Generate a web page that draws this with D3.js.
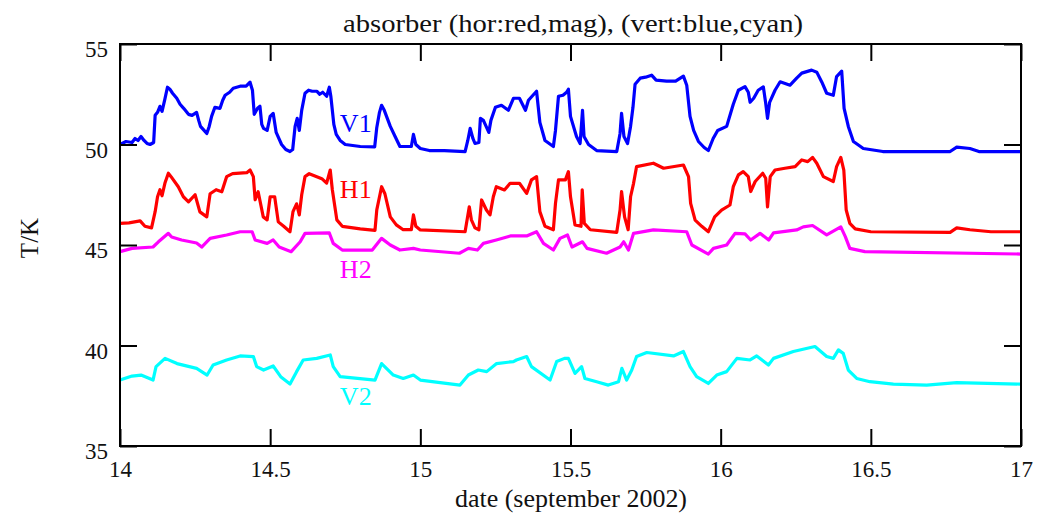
<!DOCTYPE html>
<html>
<head>
<meta charset="utf-8">
<script src="https://cdn.jsdelivr.net/npm/d3@7"></script>
<style>
  html, body { margin: 0; padding: 0; background: #fff; }
  svg { display: block; }
  text { font-family: "Liberation Serif", "Times New Roman", "DejaVu Serif", serif; fill: #111; }
</style>
</head>
<body>
<svg id="chart" width="1062" height="524"></svg>
<script>
// Absorber temperatures, September 2002 (day of month, kelvin)
const v1Days = [14.000,14.02,14.04,14.05,14.06,14.07,14.08,14.09,14.10,14.112,14.117,14.125,14.133,14.14,14.15,14.158,14.166,14.175,14.189,14.20,14.212,14.228,14.24,14.255,14.262,14.268,14.28,14.289,14.297,14.305,14.316,14.333,14.342,14.35,14.365,14.377,14.40,14.42,14.433,14.441,14.447,14.458,14.466,14.472,14.478,14.49,14.5,14.51,14.52,14.538,14.552,14.566,14.575,14.583,14.59,14.597,14.605,14.616,14.628,14.64,14.655,14.665,14.675,14.688,14.697,14.702,14.712,14.72,14.733,14.75,14.8,14.848,14.855,14.864,14.871,14.88,14.9,14.916,14.932,14.97,14.977,14.985,15.0,15.03,15.08,15.149,15.158,15.166,15.175,15.182,15.195,15.2,15.21,15.228,15.235,15.25,15.27,15.293,15.31,15.33,15.35,15.36,15.387,15.398,15.415,15.443,15.45,15.46,15.475,15.487,15.493,15.5,15.52,15.532,15.54,15.545,15.56,15.587,15.654,15.665,15.67,15.678,15.69,15.70,15.708,15.715,15.732,15.75,15.77,15.785,15.82,15.85,15.876,15.887,15.898,15.91,15.926,15.945,15.959,15.975,15.99,16.02,16.042,16.059,16.081,16.092,16.098,16.11,16.125,16.142,16.15,16.156,16.163,16.181,16.198,16.231,16.253,16.27,16.303,16.32,16.337,16.353,16.375,16.386,16.403,16.411,16.425,16.442,16.475,16.54,16.65,16.764,16.786,16.83,16.86,17.0];
const v1Temps = [50.0,50.15,50.1,50.3,50.2,50.4,50.2,50.05,50.0,50.1,51.45,51.6,51.9,51.65,52.3,52.85,52.75,52.55,52.3,52.0,51.8,51.5,51.45,51.6,51.2,50.9,50.7,50.55,50.9,51.4,51.85,51.8,52.2,52.45,52.6,52.8,52.9,52.9,53.1,52.7,51.5,51.8,51.9,51.0,50.8,50.7,51.4,51.55,50.6,50.0,49.75,49.65,49.75,50.9,51.3,50.7,51.7,52.55,52.7,52.65,52.65,52.5,52.6,52.4,52.85,52.4,51.0,50.5,50.2,50.0,49.9,49.88,50.85,51.6,51.95,51.7,50.9,50.4,49.9,49.9,50.5,50.0,49.8,49.7,49.7,49.65,50.2,50.8,50.3,50.05,50.1,51.3,51.2,50.6,51.2,51.85,51.95,51.7,52.3,52.3,51.7,52.2,52.65,51.1,50.2,49.9,50.7,52.4,52.45,52.6,52.75,51.4,50.4,50.05,51.7,50.4,50.0,49.7,49.65,50.55,51.55,50.4,50.05,50.9,51.85,53.0,53.3,53.35,53.45,53.2,53.15,53.15,53.4,52.95,51.4,50.7,50.15,49.85,49.7,50.3,50.7,50.9,52.0,52.7,52.88,52.6,52.1,52.3,52.7,52.87,52.05,51.3,52.1,52.7,53.12,52.95,53.3,53.55,53.7,53.6,53.1,52.55,52.45,53.38,53.65,51.8,50.9,50.15,49.8,49.65,49.65,49.65,49.87,49.8,49.65,49.65];

const h1Days = [14.0,14.03,14.067,14.083,14.105,14.117,14.125,14.133,14.14,14.15,14.161,14.17,14.194,14.211,14.228,14.25,14.266,14.289,14.30,14.32,14.339,14.355,14.375,14.422,14.433,14.444,14.45,14.46,14.477,14.49,14.5,14.515,14.527,14.545,14.566,14.576,14.588,14.597,14.605,14.616,14.63,14.672,14.688,14.70,14.707,14.722,14.74,14.8,14.849,14.855,14.871,14.882,14.9,14.92,14.943,14.97,14.977,14.985,15.0,15.149,15.163,15.17,15.182,15.195,15.204,15.22,15.232,15.243,15.253,15.28,15.299,15.33,15.354,15.37,15.387,15.398,15.415,15.443,15.45,15.46,15.483,15.493,15.5,15.515,15.535,15.539,15.546,15.566,15.654,15.665,15.67,15.68,15.692,15.70,15.71,15.72,15.776,15.81,15.876,15.893,15.9,15.915,15.937,15.959,15.98,16.003,16.031,16.042,16.059,16.075,16.092,16.1,16.115,16.14,16.15,16.156,16.165,16.181,16.214,16.248,16.27,16.29,16.306,16.32,16.342,16.375,16.386,16.4,16.41,16.418,16.43,16.448,16.5,16.764,16.786,16.83,16.9,17.0];
const h1Temps = [46.08,46.1,46.2,45.93,45.85,46.66,47.4,47.75,47.45,48.1,48.57,48.4,47.9,47.4,47.15,47.5,46.65,46.4,47.55,47.75,47.65,48.4,48.55,48.6,48.73,48.4,47.25,47.65,46.4,46.25,47.4,47.4,46.15,45.93,45.66,46.66,47.05,46.5,47.5,48.4,48.55,48.3,48.08,48.73,47.75,46.25,45.93,45.8,45.73,46.75,47.9,47.55,46.4,46.0,45.76,45.76,46.5,45.93,45.75,45.66,46.9,46.25,45.85,45.76,47.24,46.74,46.5,47.4,47.9,47.74,48.07,48.07,47.57,48.24,48.4,46.66,45.93,45.76,47.07,48.24,48.24,48.65,47.4,46.0,45.93,47.74,46.08,45.76,45.63,46.74,47.66,46.4,45.76,47.4,48.07,48.9,49.07,48.82,48.98,48.4,47.07,46.24,45.93,45.66,46.4,46.74,46.99,47.9,48.49,48.65,48.4,47.66,48.16,48.57,48.32,46.9,48.4,48.73,48.82,48.9,49.23,49.15,49.36,49.07,48.4,48.16,48.9,49.36,48.73,46.74,46.08,45.8,45.66,45.63,45.85,45.76,45.66,45.66];

const h2Days = [14.0,14.04,14.11,14.128,14.161,14.172,14.205,14.255,14.272,14.30,14.355,14.40,14.44,14.45,14.49,14.51,14.53,14.57,14.6,14.616,14.697,14.71,14.74,14.84,14.871,14.9,14.932,14.977,15.0,15.13,15.16,15.19,15.21,15.253,15.30,15.354,15.387,15.41,15.443,15.465,15.49,15.505,15.54,15.555,15.62,15.665,15.677,15.693,15.71,15.776,15.887,15.904,15.959,15.976,16.02,16.048,16.081,16.1,16.131,16.16,16.176,16.253,16.275,16.306,16.353,16.4,16.415,16.43,16.48,17.0];
const h2Temps = [44.67,44.83,44.9,45.16,45.58,45.4,45.25,45.1,44.9,45.33,45.5,45.66,45.66,45.25,45.08,45.25,44.9,44.67,45.16,45.58,45.6,45.08,44.75,44.75,45.33,45.0,44.75,44.83,44.75,44.59,44.83,44.75,45.08,45.25,45.45,45.45,45.66,45.08,44.75,45.33,45.5,44.9,45.16,44.83,44.59,44.9,45.16,44.75,45.58,45.75,45.66,45.0,44.55,44.83,45.0,45.58,45.55,45.25,45.58,45.25,45.6,45.75,45.9,45.97,45.5,45.9,45.42,44.83,44.67,44.55];

const v2Days = [14.0,14.04,14.07,14.11,14.12,14.15,14.19,14.255,14.29,14.31,14.355,14.4,14.444,14.455,14.478,14.51,14.535,14.566,14.588,14.61,14.655,14.70,14.71,14.733,14.849,14.871,14.91,14.943,14.977,15.0,15.066,15.132,15.16,15.193,15.221,15.254,15.31,15.32,15.354,15.37,15.432,15.454,15.48,15.493,15.515,15.537,15.548,15.587,15.626,15.66,15.671,15.687,15.704,15.72,15.754,15.843,15.876,15.898,15.92,15.959,15.987,16.02,16.054,16.098,16.12,16.159,16.176,16.242,16.314,16.353,16.375,16.392,16.408,16.425,16.453,16.497,16.575,16.686,16.786,17.0];
const v2Temps = [38.28,38.48,38.53,38.28,38.95,39.36,39.1,38.86,38.53,39.03,39.28,39.48,39.45,38.95,38.78,38.98,38.45,38.08,38.7,39.28,39.36,39.53,38.95,38.45,38.28,39.1,38.53,38.36,38.53,38.28,38.15,38.03,38.53,38.78,38.7,39.1,39.2,39.28,39.45,38.95,38.28,39.2,39.36,39.36,38.61,38.95,38.36,38.2,38.03,38.2,38.86,38.28,38.78,39.45,39.65,39.48,39.7,38.95,38.45,38.11,38.53,38.7,39.36,39.28,39.48,39.03,39.36,39.7,39.95,39.45,39.36,39.78,39.61,38.78,38.36,38.2,38.08,38.03,38.15,38.08];

const xTicks = [14, 14.5, 15, 15.5, 16, 16.5, 17];
const yTicks = [35, 40, 45, 50, 55];

const seriesNames = ["V1", "H1", "H2", "V2"];
const seriesColors = ["#0000ff", "#ff0000", "#ff00ff", "#00ffff"];

const titleText = "absorber (hor:red,mag), (vert:blue,cyan)";
const xLabelText = "date (september 2002)";
const yLabelText = "T/K";

// ---- layout ----
const SERIF = "'Liberation Serif', 'Times New Roman', serif";
const svg = d3.select("#chart");
const plotLeft = 120, plotRight = 1021, plotTop = 44, plotBottom = 446;
const tickLen = 17;

const x = d3.scaleLinear().domain([14, 17]).range([plotLeft, plotRight]);
const y = d3.scaleLinear().domain([35, 55]).range([plotBottom, plotTop]);

// label anchor (day, kelvin) sits at the text baseline centre
const series = [
  { name: seriesNames[0], color: seriesColors[0], days: v1Days, temps: v1Temps, lx: 14.785, ly: 50.62 },
  { name: seriesNames[1], color: seriesColors[1], days: h1Days, temps: h1Temps, lx: 14.785, ly: 47.34 },
  { name: seriesNames[2], color: seriesColors[2], days: h2Days, temps: h2Temps, lx: 14.785, ly: 43.36 },
  { name: seriesNames[3], color: seriesColors[3], days: v2Days, temps: v2Temps, lx: 14.785, ly: 37.04 }
];

const line = d3.line()
  .x(d => x(d[0]))
  .y(d => y(d[1]));

// traces
const plot = svg.append("g");
series.forEach(s => {
  const pts = s.days.map((d, i) => [d, s.temps[i]]);
  plot.append("path")
    .datum(pts)
    .attr("fill", "none")
    .attr("stroke", s.color)
    .attr("stroke-width", 3.2)
    .attr("stroke-linejoin", "round")
    .attr("d", line);
});

// trace labels
series.forEach(s => {
  svg.append("text")
    .attr("x", x(s.lx))
    .attr("y", y(s.ly))
    .attr("text-anchor", "middle")
    .attr("font-family", SERIF)
    .style("font-family", SERIF)
    .style("font-size", "26px")
    .style("fill", s.color)
    .text(s.name);
});

// axes with inward ticks
const fmt = d => String(d);
const bottomAxis = d3.axisBottom(x).tickValues(xTicks).tickSize(-tickLen).tickPadding(15).tickFormat(fmt);
const topAxis = d3.axisTop(x).tickValues(xTicks).tickSize(-tickLen).tickFormat("");
const leftAxis = d3.axisLeft(y).tickValues(yTicks).tickSize(-tickLen).tickPadding(12).tickFormat(fmt);
const rightAxis = d3.axisRight(y).tickValues(yTicks).tickSize(-tickLen).tickFormat("");

function styleAxis(g) {
  g.attr("font-family", SERIF).attr("font-size", 23);
  g.select(".domain").remove();
  g.selectAll(".tick line").attr("stroke", "#000").attr("stroke-width", 2);
  g.selectAll(".tick text")
    .style("font-family", SERIF)
    .style("font-size", "23px")
    .attr("fill", "#111");
}

svg.append("g").attr("transform", `translate(0,${plotBottom})`).call(bottomAxis).call(styleAxis)
  .selectAll(".tick text").attr("dy", "0.71em");
svg.append("g").attr("transform", `translate(0,${plotTop})`).call(topAxis).call(styleAxis);
svg.append("g").attr("transform", `translate(${plotLeft},0)`).call(leftAxis).call(styleAxis)
  .selectAll(".tick text").attr("dy", "0.55em");
svg.append("g").attr("transform", `translate(${plotRight},0)`).call(rightAxis).call(styleAxis);

// frame
svg.append("rect")
  .attr("x", plotLeft).attr("y", plotTop)
  .attr("width", plotRight - plotLeft).attr("height", plotBottom - plotTop)
  .attr("fill", "none").attr("stroke", "#000").attr("stroke-width", 2);

// title and axis labels
svg.append("text")
  .attr("x", 573).attr("y", 32)
  .attr("text-anchor", "middle")
  .attr("textLength", 460)
  .attr("lengthAdjust", "spacingAndGlyphs")
  .style("font-family", SERIF)
  .style("font-size", "25px")
  .text(titleText);

svg.append("text")
  .attr("x", 571).attr("y", 507)
  .attr("text-anchor", "middle")
  .attr("textLength", 232)
  .attr("lengthAdjust", "spacingAndGlyphs")
  .style("font-family", SERIF)
  .style("font-size", "25px")
  .text(xLabelText);

svg.append("text")
  .attr("transform", "translate(38,238) rotate(-90)")
  .attr("text-anchor", "middle")
  .style("font-family", SERIF)
  .style("font-size", "25px")
  .text(yLabelText);
</script>
</body>
</html>
